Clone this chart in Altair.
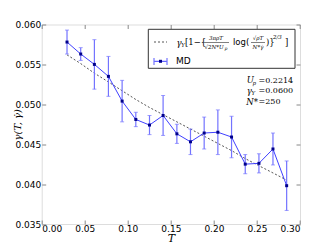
import altair as alt
import pandas as pd

# --- data ---
T = [0.0294, 0.0453, 0.0612, 0.0775, 0.0934, 0.1093, 0.1252, 0.1410, 0.1570,
     0.1728, 0.1887, 0.2046, 0.2205, 0.2364, 0.2523, 0.2686, 0.2845]
gamma_md = [0.0578, 0.0563, 0.0550, 0.0535, 0.0504, 0.0481, 0.0474, 0.0486, 0.0463,
            0.0453, 0.0464, 0.0465, 0.0459, 0.0425, 0.0426, 0.0444, 0.0398]
gamma_err = [0.0015, 0.0008, 0.0031, 0.0025, 0.0026, 0.0009, 0.0012, 0.0025, 0.0012,
             0.0016, 0.0020, 0.0028, 0.0026, 0.0012, 0.0012, 0.0020, 0.0031]
gamma_theory = [0.0562, 0.0551, 0.0539, 0.0528, 0.0517, 0.0506, 0.0496, 0.0487, 0.0478,
                0.0469, 0.0460, 0.0451, 0.0442, 0.0432, 0.0423, 0.0414, 0.0405]
x_ticks = [0.00, 0.05, 0.10, 0.15, 0.20, 0.25, 0.30]
y_ticks = [0.035, 0.040, 0.045, 0.050, 0.055, 0.060]

df = pd.DataFrame({
    "T": T,
    "g": gamma_md,
    "theory": gamma_theory,
    "lo": [g - e for g, e in zip(gamma_md, gamma_err)],
    "hi": [g + e for g, e in zip(gamma_md, gamma_err)],
})

W, H = 258.3, 199.5
PL, PT = 41.7, 24.5  # page position of plot origin
TICKC = "#888888"
LBL = dict(labelFont="DejaVu Sans", labelFontSize=9, labelColor="black",
           tickColor=TICKC, tickSize=4, offset=-4, domain=False, grid=False)

xaxis = alt.Axis(values=x_ticks, format=".2f", title="T", titleFont="DejaVu Serif",
                 titleFontStyle="italic", titleFontWeight="normal", titleFontSize=11,
                 titleX=W / 2, titleY=21.5, titleBaseline="alphabetic", titleAlign="center",
                 labelPadding=0, labelBaseline="top", **LBL)
yaxis = alt.Axis(values=y_ticks, format=".3f", title="γ(T, γ̇)", titleFont="DejaVu Serif",
                 titleFontStyle="italic", titleFontWeight="normal", titleFontSize=10,
                 titleAngle=270, titleX=-28.5, titleY=H / 2, titleBaseline="middle",
                 titleAlign="center", labelPadding=1, **LBL)
xs = alt.Scale(domain=[0, 0.30], nice=False, zero=False)
ys = alt.Scale(domain=[0.035, 0.060], nice=False, zero=False)

X = alt.X("T:Q", scale=xs, axis=xaxis)
Y = alt.Y("g:Q", scale=ys, axis=yaxis)

base = alt.Chart(df)

theory = base.mark_line(color="#555555", strokeDash=[2, 2], strokeWidth=1).encode(
    x=X, y=alt.Y("theory:Q", scale=ys, axis=yaxis))
bars = base.mark_rule(color="#7373ff", strokeWidth=1.2).encode(
    x=X, y=alt.Y("lo:Q", scale=ys, axis=yaxis), y2="hi:Q")
caps_lo = base.mark_tick(color="#7373ff", size=4, thickness=1, orient="horizontal").encode(
    x=X, y=alt.Y("lo:Q", scale=ys, axis=yaxis))
caps_hi = base.mark_tick(color="#7373ff", size=4, thickness=1, orient="horizontal").encode(
    x=X, y=alt.Y("hi:Q", scale=ys, axis=yaxis))
md_line = base.mark_line(color="#4040ff", strokeWidth=1).encode(x=X, y=Y)
pts = base.mark_square(color="#00008b", size=9, opacity=1).encode(x=X, y=Y)

# --- legend box (decoration) ---
one = pd.DataFrame({"a": [0]})
lb = alt.Chart(one)
box = lb.mark_rect(fill="white", stroke="#333333", strokeWidth=1).encode(
    x=alt.value(148.3 - PL), x2=alt.value(295 - PL), y=alt.value(29.3 - PT), y2=alt.value(68.3 - PT))
dash_s = lb.mark_rule(color="#555555", strokeDash=[2, 2], strokeWidth=1).encode(
    x=alt.value(154 - PL), x2=alt.value(167 - PL), y=alt.value(42 - PT))
md_s_l = lb.mark_rule(color="#4040ff", strokeWidth=1).encode(
    x=alt.value(154 - PL), x2=alt.value(167 - PL), y=alt.value(61.3 - PT))
md_s_b1 = lb.mark_rule(color="#7373ff", strokeWidth=1.2).encode(
    x=alt.value(154 - PL), y=alt.value(58 - PT), y2=alt.value(65 - PT))
md_s_b2 = lb.mark_rule(color="#7373ff", strokeWidth=1.2).encode(
    x=alt.value(167 - PL), y=alt.value(58 - PT), y2=alt.value(65 - PT))
md_s_p = lb.mark_square(color="#00008b", size=9, opacity=1).encode(
    x=alt.value(160.5 - PL), y=alt.value(61.3 - PT))
md_t = lb.mark_text(text="MD", font="DejaVu Sans", fontSize=9, align="left",
                    baseline="middle").encode(x=alt.value(176 - PL), y=alt.value(61.3 - PT))


def txt(s, x, y, size=8, font="DejaVu Serif", style="italic", align="left"):
    return lb.mark_text(text=s, font=font, fontSize=size, fontStyle=style, align=align,
                        baseline="middle", color="black").encode(
        x=alt.value(x - PL), y=alt.value(y - PT))


formula = [
    txt("γ", 176.5, 42.5, 8.5),
    txt("Y", 181.3, 44.5, 5.5),
    txt("[1−{", 185, 42, 8.5, style="normal"),
    txt("3πρT", 216, 38.2, 5.5, align="center"),
    txt("√2N*U", 214, 47.3, 5.5, align="center"),
    txt("p", 224.5, 48.5, 4.5),
    txt("log(", 233, 42, 8.5, font="DejaVu Sans", style="normal"),
    txt("√ρT", 258, 38.2, 5.5, align="center"),
    txt("N*γ̇", 258, 47, 5.5, align="center"),
    txt(")}", 266, 42, 8.5, style="normal"),
    txt("2/3", 273, 37, 5.5),
    txt("]", 285, 42, 8.5, style="normal"),
]
frac1 = lb.mark_rule(color="black", strokeWidth=0.5).encode(
    x=alt.value(203 - PL), x2=alt.value(229 - PL), y=alt.value(42.5 - PT))
frac2 = lb.mark_rule(color="black", strokeWidth=0.5).encode(
    x=alt.value(251 - PL), x2=alt.value(265 - PL), y=alt.value(42.5 - PT))

annot = [
    txt("U", 246.7, 80, 8.5), txt("p", 252.5, 82.5, 5.5), txt("=0.2214", 258.5, 80.5, 8, style="normal"),
    txt("γ", 246.7, 91, 8.5), txt("Y", 251.5, 93, 5.5), txt("=0.0600", 258.5, 91.2, 8, style="normal"),
    txt("N*", 246.2, 101.8, 8.5), txt("=250", 258.5, 102, 8, style="normal"),
]

main = alt.layer(theory, bars, caps_lo, caps_hi, md_line, pts,
                 box, dash_s, md_s_l, md_s_b1, md_s_b2, md_s_p, md_t, frac1, frac2,
                 *formula, *annot)

# top/right inward ticks
TOPR = dict(labels=False, title=None, tickColor=TICKC, tickSize=4, offset=-4, domain=False,
            grid=False)
tick_layer = base.mark_point(opacity=0).encode(
    x=alt.X("T:Q", scale=xs, axis=alt.Axis(values=x_ticks, orient="top", **TOPR)),
    y=alt.Y("g:Q", scale=ys, axis=alt.Axis(values=y_ticks, orient="right", **TOPR)),
)

chart = alt.layer(main, tick_layer).resolve_axis(x="independent", y="independent").properties(
    width=W, height=H,
    autosize=alt.AutoSizeParams(type="none"),
    padding={"left": 33.7, "top": 16.5, "right": 12, "bottom": 23},
).configure_view(stroke="#aaaaaa", strokeWidth=2).configure(background="white")

chart.save("out.html", embed_options={"renderer": "svg", "actions": False})
